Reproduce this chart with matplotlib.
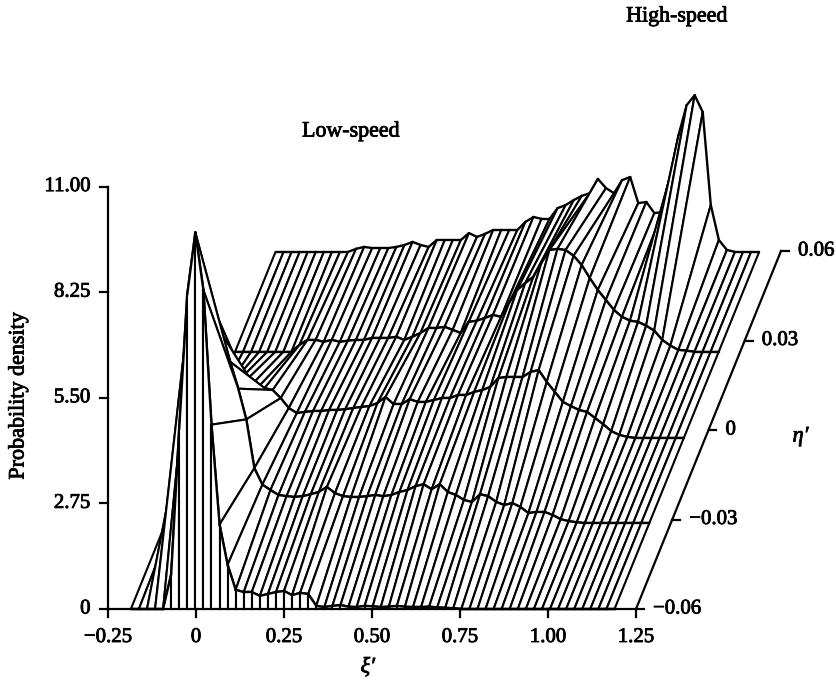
import matplotlib
matplotlib.use("Agg")
import matplotlib.pyplot as plt
import matplotlib.patheffects as pe
import numpy as np

plt.rcParams['font.family'] = ['Liberation Serif', 'DejaVu Serif']

xi_start, xi_step = -0.185, 0.0229
row_eta = [-0.06, -0.0312, -0.0027, 0.0262, 0.0597]

row1 = [0,0,0,0,0,.9,4.7,8.2,9.8,8.3,4.8,2.2,1.15,.5,.44,.44,.34,.39,.44,.47,.36,.42,.39,.08,.05,
        .08,.1,.06,.05,.08,.07,.05,.06,.08,.06,.05,.05,.06,.04,.03,.02,0,0,0,0,0,0,0,0,0,0,0,0,0,0,0,0,0,0,0,0]
row2 = [0,.1,2.4,5.8,7.1,6.24,5.57,4.9,4.2,3.5,2.7,1.43,1.0,.86,.73,.7,.68,.7,.75,.81,.94,.78,.7,.68,.68,
        .7,.73,.7,.73,.81,.86,.96,1.01,.88,1.01,.81,.73,.6,.55,.75,.7,.55,.47,.52,.42,.26,.29,.29,.21,.1,.05,.02,0,0,0,0,0,0,0,0,0]
row3 = [0,.5,.9,1.2,1.33,1.36,1.3,1.28,1.3,1.25,1.04,.78,.65,.68,.7,.7,.73,.73,.75,.78,.81,.83,.91,1.07,.88,
        .88,1.01,.94,.94,.99,1.04,1.04,1.12,1.12,1.2,1.25,1.33,1.56,1.59,1.59,1.59,1.72,1.77,1.46,1.2,.94,.83,.73,.68,.52,.36,.18,.08,.03,0,0,0,0,0,0,0]
row4 = [0,0,0,0,0,0,0,0,.18,.31,.31,.26,.31,.26,.29,.31,.31,.36,.36,.36,.39,.31,.39,.49,.62,
        .62,.65,.57,.49,.78,.81,.88,.96,.91,1.27,1.61,1.79,1.95,2.31,2.65,2.68,2.65,2.5,2.26,1.92,1.61,1.35,1.09,.91,.81,.78,.68,.55,.31,.16,.05,.03,0,0,0,0]
row5 = [0,0,0,0,0,0,0,0,0,0,.08,.13,.1,.1,.1,.13,.18,.26,.18,.13,.31,.31,.31,.31,.49,
        .39,.47,.57,.57,.57,.57,.78,.91,.86,.86,1.14,1.22,1.35,1.46,1.53,1.9,1.66,1.53,1.87,1.95,1.27,1.3,1.01,1.04,2.0,3.04,3.82,4.08,3.64,1.22,.31,.05,0,0,0,0]
rows = [row1, row2, row3, row4, row5]

x_ticks = [-0.25, 0, 0.25, 0.50, 0.75, 1.00, 1.25]
x_labels = ['\u22120.25', '0', '0.25', '0.50', '0.75', '1.00', '1.25']
y_ticks = [0, 2.75, 5.50, 8.25, 11.00]
y_labels = ['0', '2.75', '5.50', '8.25', '11.00']
eta_ticks = [-0.06, -0.03, 0, 0.03, 0.06]
eta_labels = ['\u22120.06', '\u22120.03', '0', '0.03', '0.06']

W, H = 837, 681
fig = plt.figure(figsize=(W/100, H/100), dpi=100)
ax = fig.add_axes([0, 0, 1, 1])
PX, PY = 352.0, 38.4
ax.set_xlim(-196/PX, (W-196)/PX)
ax.set_ylim(-(H-609)/PY, 609/PY)
ax.axis('off')

ETA0 = -0.06
KX = 145/0.12/PX
KY = 358/0.12/PY
def proj(xi, d, eta):
    return xi + KX*(eta-ETA0), d + KY*(eta-ETA0)

LW_H, LW_R = 1.5, 1.7
xi = xi_start + xi_step*np.arange(len(row1))
z = 3.0
C = 'black'
for r in range(len(rows)-1, 0, -1):
    bx, by = proj(xi, np.array(rows[r]), row_eta[r])
    fx, fy = proj(xi, np.array(rows[r-1]), row_eta[r-1])
    for j in range(len(xi)-1):
        ax.fill([fx[j], fx[j+1], bx[j+1], bx[j]], [fy[j], fy[j+1], by[j+1], by[j]],
                color='white', lw=0, zorder=z); z += .001
        ax.plot([fx[j], bx[j]], [fy[j], by[j]], color=C, lw=LW_H, zorder=z, solid_capstyle='round')
        ax.plot([fx[j+1], bx[j+1]], [fy[j+1], by[j+1]], color=C, lw=LW_H, zorder=z, solid_capstyle='round')
        ax.plot(bx[j:j+2], by[j:j+2], color=C, lw=LW_R, zorder=z, solid_capstyle='round'); z += .001
    for j in range(len(xi)-1):
        ax.plot(fx[j:j+2], fy[j:j+2], color=C, lw=LW_R, zorder=z, solid_capstyle='round')
    z += .001

# front curtain
fx, fy = proj(xi, np.array(row1), row_eta[0])
for j in range(len(xi)-1):
    ax.fill([fx[j], fx[j+1], fx[j+1], fx[j]], [0, 0, fy[j+1], fy[j]], color='white', lw=0, zorder=z); z += .001
    ax.plot([fx[j], fx[j]], [0, fy[j]], color=C, lw=LW_H, zorder=z)
    ax.plot([fx[j+1], fx[j+1]], [0, fy[j+1]], color=C, lw=LW_H, zorder=z)
    ax.plot(fx[j:j+2], fy[j:j+2], color=C, lw=LW_R, zorder=z); z += .001
z += 1

FS = 15
stroke = [pe.withStroke(linewidth=0.6, foreground='black')]
def put(*a, **k):
    t = ax.text(*a, fontsize=k.pop('fontsize', FS), color='black', zorder=z, **k)
    t.set_path_effects(stroke)
    return t

# axes
ALW = 1.6
ax.plot([x_ticks[0], x_ticks[-1]], [0, 0], color=C, lw=ALW, zorder=z)
ax.plot([x_ticks[0], x_ticks[0]], [y_ticks[0], y_ticks[-1]], color=C, lw=ALW, zorder=z)
tlx = 8/PX; tly = 8/PY
for v, l in zip(x_ticks, x_labels):
    ax.plot([v, v], [0, -tly], color=C, lw=ALW, zorder=z)
    put(v, -19/PY, l, ha='center', va='top')
for v, l in zip(y_ticks, y_labels):
    ax.plot([x_ticks[0]-tlx, x_ticks[0]], [v, v], color=C, lw=ALW, zorder=z)
    put(x_ticks[0]-17.5/PX, v, l, ha='right', va='center')
ex0, ey0 = proj(1.25, 0, eta_ticks[0])
ex1, ey1 = proj(1.25, 0, eta_ticks[-1])
ax.plot([ex0, ex1], [ey0, ey1], color=C, lw=ALW, zorder=z)
for v, l in zip(eta_ticks, eta_labels):
    ex, ey = proj(1.25, 0, v)
    ax.plot([ex, ex+tlx], [ey, ey], color=C, lw=ALW, zorder=z)
    put(ex+17/PX, ey, l, ha='left', va='center')

put(-0.25-89/PX, 5.55, 'Probability density', rotation=90, ha='center', va='center', fontsize=15.9)
put(0.488, -59/PY, '\u03be\u2032', style='italic', ha='center', va='center', fontsize=16)
ex, ey = proj(1.25, 0, 0)
put(ex+92/PX, ey-7/PY, '\u03b7\u2032', style='italic', ha='center', va='center', fontsize=16)
put((351-196)/PX, (609-132)/PY, 'Low-speed', ha='center', va='center', fontsize=15.8)
put((677-196)/PX, (609-17)/PY, 'High-speed', ha='center', va='center', fontsize=15.8)

fig.savefig('out.png', dpi=100)
